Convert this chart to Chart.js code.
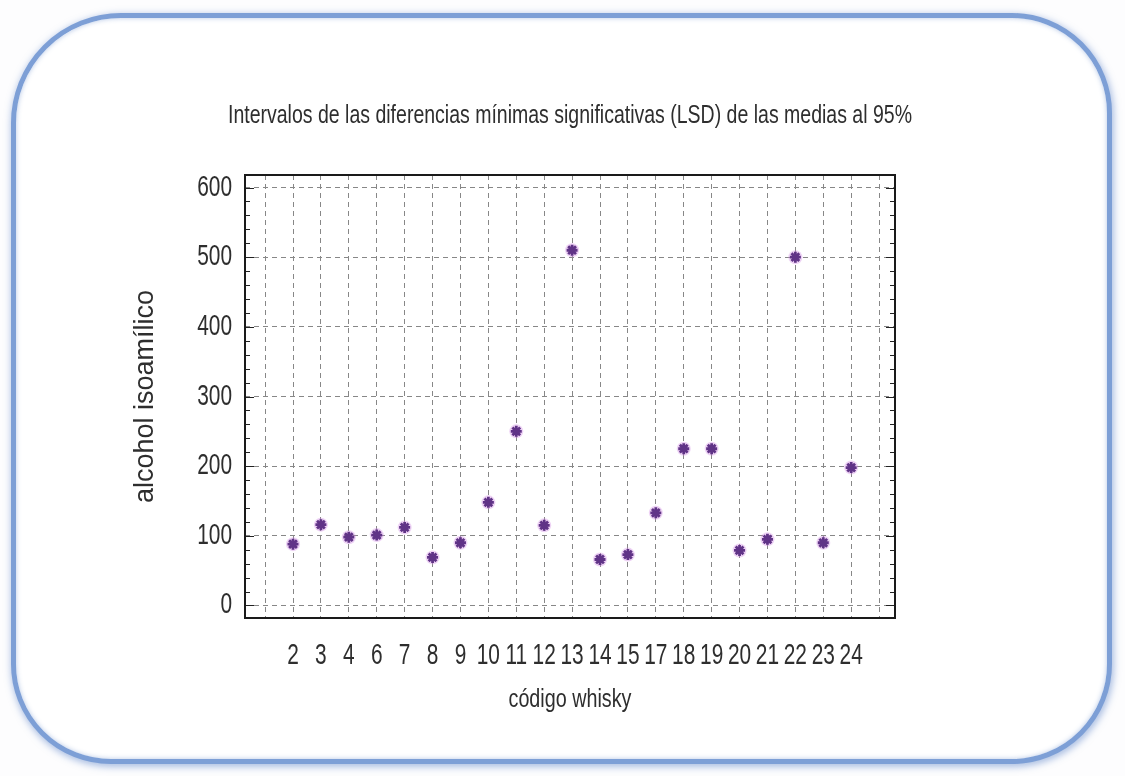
<!DOCTYPE html>
<html><head><meta charset="utf-8">
<script src="https://cdn.jsdelivr.net/npm/chart.js@4.4.1/dist/chart.umd.min.js"></script>
<style>
html,body{margin:0;padding:0;background:#fff;}
#wrap{position:relative;width:1125px;height:776px;overflow:hidden;background:#fdfdfe;}
#frame{position:absolute;left:11px;top:13px;width:1101px;height:751px;border:5px solid #7d9fd6;border-radius:110px 100px 100px 100px;box-shadow:1px 2px 7px 1px rgba(90,130,200,0.5), inset 0 0 5px rgba(90,130,200,0.45);box-sizing:border-box;background:#fff;}
canvas{position:absolute;left:0;top:0;}
</style></head>
<body><div id="wrap"><div id="frame"></div><canvas id="c" width="1125" height="776"></canvas></div>
<script>
const categories = ['2','3','4','6','7','8','9','10','11','12','13','14','15','17','18','19','20','21','22','23','24'];
const alcoholIsoamilico = [88,116,98,101,112,69,90,148,250,115,510,66,73,133,225,225,79,95,500,90,198];
const yTickValues = [0,100,200,300,400,500,600];
const yMinorStep = 20;
const chartTitle = 'Intervalos de las diferencias mínimas significativas (LSD) de las medias al 95%';
const xAxisTitle = 'código whisky';
const yAxisTitle = 'alcohol isoamílico';

const SANS = "'Liberation Sans',Arial,sans-serif";
const points = categories.map((c, i) => ({x: i, y: alcoholIsoamilico[i]}));

// draw horizontally condensed text (Arial Narrow look)
function narrowText(ctx, text, x, y, size, sx, align) {
  ctx.save();
  ctx.font = size + 'px ' + SANS;
  ctx.textBaseline = 'middle';
  ctx.textAlign = align;
  ctx.translate(x, y);
  ctx.scale(sx, 1);
  ctx.fillText(text, 0, 0);
  ctx.restore();
}

const framePlugin = {
  id: 'frame',
  afterDatasetsDraw(chart) {
    const {ctx, chartArea: a, scales} = chart;
    const y = scales.y, x = scales.x;
    ctx.save();
    ctx.strokeStyle = '#222';
    ctx.lineWidth = 1.2;
    for (let v = 0; v <= y.max; v += yMinorStep) {
      const py = Math.round(y.getPixelForValue(v)) + 0.5;
      const len = (v % 100 === 0) ? 9 : 5;
      ctx.beginPath();
      ctx.moveTo(a.left, py); ctx.lineTo(a.left + len, py);
      ctx.moveTo(a.right, py); ctx.lineTo(a.right - len, py);
      ctx.stroke();
    }
    ctx.lineWidth = 2;
    ctx.strokeStyle = '#1a1a1a';
    ctx.strokeRect(a.left, a.top, a.right - a.left, a.bottom - a.top);
    ctx.fillStyle = '#2e2e2e';
    // title, fitted to the reference width
    ctx.font = '26px ' + SANS;
    const tw = ctx.measureText(chartTitle).width;
    narrowText(ctx, chartTitle, (a.left + a.right) / 2, 116, 26, 684 / tw, 'center');
    // y tick labels
    yTickValues.forEach(v => narrowText(ctx, String(v), a.left - 13, y.getPixelForValue(v), 29, 0.72, 'right'));
    // x tick labels
    categories.forEach((c, i) => narrowText(ctx, c, x.getPixelForValue(i), a.bottom + 38, 29, 0.72, 'center'));
    // x axis title
    narrowText(ctx, xAxisTitle, (a.left + a.right) / 2, a.bottom + 82, 26, 0.76, 'center');
    ctx.restore();
  }
};

new Chart(document.getElementById('c'), {
  type: 'scatter',
  data: {
    datasets: [
      {data: points, pointStyle: 'circle', pointRadius: 7, backgroundColor: 'rgba(205,130,225,0.35)', borderWidth: 0, pointHoverRadius: 7},
      {data: points, pointStyle: 'star', pointRadius: 5.5, borderColor: '#260a56', backgroundColor: '#260a56', borderWidth: 2.8, pointHoverRadius: 5.5}
    ]
  },
  options: {
    responsive: false,
    animation: false,
    events: [],
    layout: {padding: {left: 120, right: 230, top: 175, bottom: 40}},
    plugins: {legend: {display: false}, tooltip: {enabled: false}, title: {display: false}},
    scales: {
      x: {
        type: 'linear', min: -1.72, max: 21.57,
        afterBuildTicks(s) { const t = []; for (let i = -1; i <= categories.length; i++) t.push({value: i}); s.ticks = t; },
        afterFit(s) { s.height = 776 - 40 - 618; },
        grid: {color: '#878787', lineWidth: 1, drawTicks: false},
        border: {display: false, dash: [5, 4]},
        ticks: {display: false}
      },
      y: {
        min: -18, max: 618,
        afterBuildTicks(s) { s.ticks = yTickValues.map(v => ({value: v})); },
        afterFit(s) { s.width = 125; },
        grid: {color: '#878787', lineWidth: 1, drawTicks: false},
        border: {display: false, dash: [5, 4]},
        ticks: {display: false},
        title: {display: true, text: yAxisTitle, color: '#2e2e2e', font: {family: SANS, size: 27}, padding: {top: 9, bottom: 0}}
      }
    }
  },
  plugins: [framePlugin]
});
</script>
</body></html>
